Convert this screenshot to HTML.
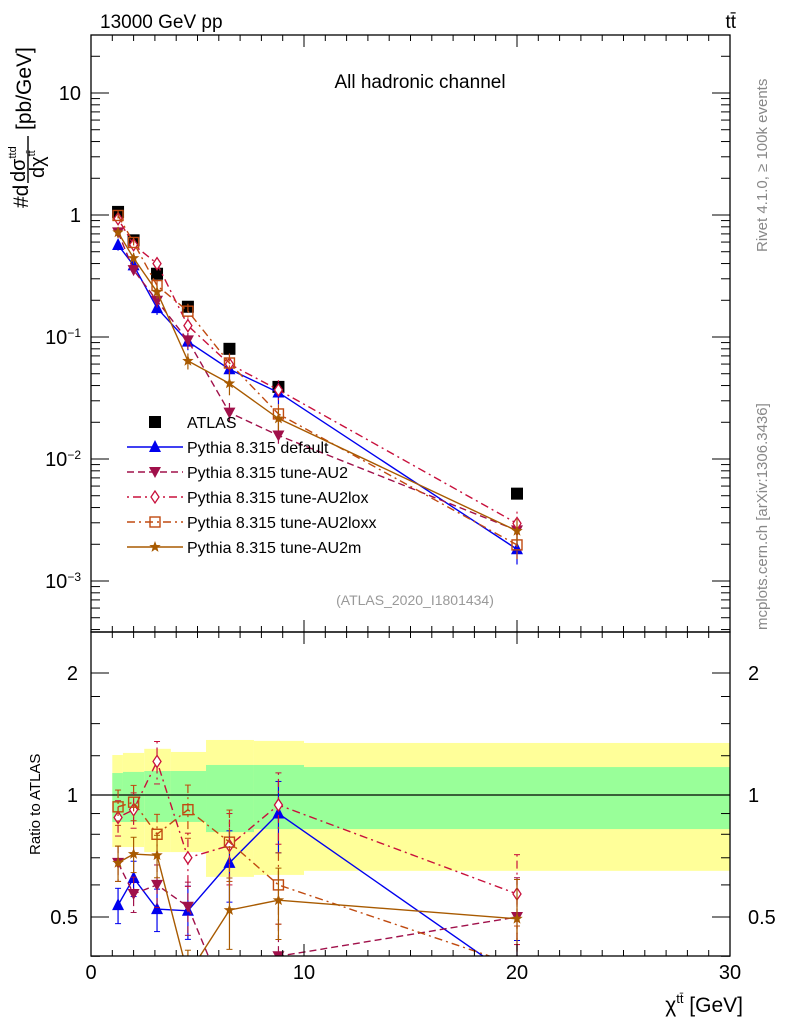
<!DOCTYPE html>
<html><head><meta charset="utf-8">
<style>
body{margin:0;background:#fff;font-family:"Liberation Sans",sans-serif;}
svg{display:block}
</style></head>
<body>
<svg id="chart" width="786" height="1024" xmlns="http://www.w3.org/2000/svg" font-family="Liberation Sans, sans-serif"></svg>
<script>
const xs = [1.27, 2.0, 3.1, 4.55, 6.5, 8.8, 20.0];
const atlas = [1.06, 0.62, 0.33, 0.177, 0.080, 0.039, 0.0052];
const atlasErr = [0.15, 0.15, 0.15, 0.15, 0.2, 0.2, 0.2];
const binEdges = [1, 1.5, 2.5, 3.75, 5.4, 7.65, 10, 30];
const yellowHi = [1.255, 1.27, 1.30, 1.277, 1.367, 1.36, 1.344];
const yellowLo = [0.744, 0.744, 0.723, 0.723, 0.628, 0.635, 0.65];
const greenHi = [1.133, 1.14, 1.146, 1.146, 1.186, 1.186, 1.172];
const greenLo = [0.858, 0.858, 0.858, 0.858, 0.81, 0.824, 0.824];
const rDefault = [0.535, 0.624, 0.523, 0.518, 0.68, 0.90, 0.35];
const rAU2 = [0.68, 0.57, 0.60, 0.53, 0.30, 0.40, 0.50];
const rAU2lox = [0.88, 0.92, 1.21, 0.70, 0.75, 0.945, 0.57];
const rAU2loxx = [0.935, 0.96, 0.80, 0.92, 0.765, 0.60, 0.38];
const rAU2m = [0.68, 0.715, 0.71, 0.36, 0.52, 0.55, 0.495];
const relErr = [0.1, 0.1, 0.12, 0.15, 0.2, 0.2, 0.25];
const xTicks = [0, 10, 20, 30];
const mainTicks = [10, 1, 0.1, 0.01, 0.001];
const mainTickLabels = ["10", "1", "10<tspan dy='-7' font-size='12'>−1</tspan>", "10<tspan dy='-7' font-size='12'>−2</tspan>", "10<tspan dy='-7' font-size='12'>−3</tspan>"];
const ratioTicks = [0.5, 1, 2];

const svg = document.getElementById('chart');
const NS = 'http://www.w3.org/2000/svg';
const L = 91, R = 730;
const MT = 35, MB = 632, RB = 956;
const X = v => L + (v - 0) / 30 * (R - L);
const YM = v => 215 - 122 * Math.log10(v);
const YR = v => 795 - 122 * Math.log2(v);
function el(tag, attrs, parent) {
  const e = document.createElementNS(NS, tag);
  for (const k in attrs) e.setAttribute(k, attrs[k]);
  (parent || svg).appendChild(e);
  return e;
}
function txt(x, y, s, size, extra, name, parent) {
  const t = el('text', Object.assign({x: x, y: y, 'font-size': size}, extra || {}), parent);
  t.innerHTML = s;
  
  
  return t;
}
const defs = el('defs', {});
const c1 = el('clipPath', {id: 'cm'}, defs); el('rect', {x: L, y: MT, width: R - L, height: MB - MT}, c1);
const c2 = el('clipPath', {id: 'cr'}, defs); el('rect', {x: L, y: MB, width: R - L, height: RB - MB}, c2);
const gMain = el('g', {'clip-path': 'url(#cm)'});


const gRatio = el('g', {'clip-path': 'url(#cr)'});



for (let i = 0; i < binEdges.length - 1; i++) {
  const x0 = X(binEdges[i]), x1 = X(binEdges[i + 1]);
  const yb = el('rect', {x: x0, y: YR(yellowHi[i]), width: x1 - x0, height: YR(yellowLo[i]) - YR(yellowHi[i]), fill: '#ffff99'}, gRatio);
  
  
}
for (let i = 0; i < binEdges.length - 1; i++) {
  const x0 = X(binEdges[i]), x1 = X(binEdges[i + 1]);
  const gb = el('rect', {x: x0, y: YR(greenHi[i]), width: x1 - x0, height: YR(greenLo[i]) - YR(greenHi[i]), fill: '#99ff99'}, gRatio);
  
  
}
el('line', {x1: L, x2: R, y1: YR(1), y2: YR(1), stroke: '#000', 'stroke-width': 1.2}, gRatio);

function marker(g, type, x, y, color) {
  let m;
  if (type === 'sq') m = el('rect', {x: x - 6, y: y - 6, width: 12, height: 12, fill: '#000'}, g);
  else if (type === 'tri') m = el('polygon', {points: `${x},${y - 7} ${x - 6},${y + 5} ${x + 6},${y + 5}`, fill: color}, g);
  else if (type === 'tridown') m = el('polygon', {points: `${x},${y + 6} ${x - 6},${y - 5} ${x + 6},${y - 5}`, fill: color}, g);
  else if (type === 'dia') m = el('polygon', {points: `${x},${y - 6} ${x - 4},${y} ${x},${y + 6} ${x + 4},${y}`, fill: '#fff', stroke: color, 'stroke-width': 1.3}, g);
  else if (type === 'osq') m = el('rect', {x: x - 5, y: y - 5, width: 10, height: 10, fill: 'none', stroke: color, 'stroke-width': 1.4}, g);
  else if (type === 'star') { const p = []; for (let k = 0; k < 10; k++) { const a = -Math.PI / 2 + k * Math.PI / 5; const r = k % 2 ? 2.5 : 6; p.push((x + r * Math.cos(a)).toFixed(1) + ',' + (y + r * Math.sin(a)).toFixed(1)); } m = el('polygon', {points: p.join(' '), fill: color}, g); }
  
  
}
const series = [
  {name: 'pythia-default', r: rDefault, color: '#0000ee', dash: '', m: 'tri', label: 'Pythia 8.315 default'},
  {name: 'pythia-au2', r: rAU2, color: '#a0104a', dash: '7,4', m: 'tridown', label: 'Pythia 8.315 tune-AU2'},
  {name: 'pythia-au2lox', r: rAU2lox, color: '#c8103c', dash: '2,4,8,4', m: 'dia', label: 'Pythia 8.315 tune-AU2lox'},
  {name: 'pythia-au2loxx', r: rAU2loxx, color: '#c04a10', dash: '8,4,2,4', m: 'osq', label: 'Pythia 8.315 tune-AU2loxx'},
  {name: 'pythia-au2m', r: rAU2m, color: '#a85a00', dash: '', m: 'star', label: 'Pythia 8.315 tune-AU2m'}
];
atlas.forEach((v, i) => {
  el('line', {x1: X(xs[i]), x2: X(xs[i]), y1: YM(v * (1 + atlasErr[i] * 0.5)), y2: YM(v * (1 - atlasErr[i] * 0.5)), stroke: '#000'}, gMain);
  marker(gMain, 'sq', X(xs[i]), YM(v), '#000');
});
series.forEach(s => {
  const gm = el('g', {}, gMain);
  
  
  const gr = el('g', {}, gRatio);
  
  
  const pm = xs.map((x, i) => X(x) + ',' + YM(s.r[i] * atlas[i])).join(' ');
  const pr = xs.map((x, i) => X(x) + ',' + YR(s.r[i])).join(' ');
  el('polyline', {points: pm, fill: 'none', stroke: s.color, 'stroke-width': 1.4, 'stroke-dasharray': s.dash}, gm);
  el('polyline', {points: pr, fill: 'none', stroke: s.color, 'stroke-width': 1.4, 'stroke-dasharray': s.dash}, gr);
  xs.forEach((x, i) => {
    const v = s.r[i], e = relErr[i];
    el('line', {x1: X(x), x2: X(x), y1: YM(v * atlas[i] * (1 + e)), y2: YM(v * atlas[i] * (1 - e)), stroke: s.color, 'stroke-width': 1.2, 'stroke-dasharray': s.dash}, gm);
    el('line', {x1: X(x), x2: X(x), y1: YR(v * (1 + e)), y2: YR(v * (1 - e)), stroke: s.color, 'stroke-width': 1.2, 'stroke-dasharray': s.dash}, gr);
    [v * (1 + e), v * (1 - e)].forEach(q => el('line', {x1: X(x) - 3, x2: X(x) + 3, y1: YR(q), y2: YR(q), stroke: s.color}, gr));
    marker(gm, s.m, X(x), YM(v * atlas[i]), s.color);
    marker(gr, s.m, X(x), YR(v), s.color);
  });
});

el('rect', {x: L, y: MT, width: R - L, height: MB - MT, fill: 'none', stroke: '#000', 'stroke-width': 1.3});
el('rect', {x: L, y: MB, width: R - L, height: RB - MB, fill: 'none', stroke: '#000', 'stroke-width': 1.3});
for (let v = 0; v <= 30; v++) {
  const len = v % 10 === 0 ? 12 : 6;
  [[MB, -1], [RB, -1], [MT, 1], [MB, 1]].forEach(([y, d]) => el('line', {x1: X(v), x2: X(v), y1: y, y2: y + d * len, stroke: '#000'}));
}
xTicks.forEach(v => txt(X(v), 979, String(v), 20, {'text-anchor': 'middle'}, 'x-tick-label'));
for (let d = -4; d <= 1; d++) for (let k = 1; k <= 9; k++) {
  const v = k * Math.pow(10, d), y = YM(v);
  if (y < MT || y > MB) continue;
  const len = k === 1 ? 18 : 9;
  el('line', {x1: L, x2: L + len, y1: y, y2: y, stroke: '#000'});
  el('line', {x1: R, x2: R - len, y1: y, y2: y, stroke: '#000'});
}
mainTicks.forEach((v, i) => txt(81, YM(v) + 7, mainTickLabels[i], 20, {'text-anchor': 'end'}, 'y-tick-label'));
[0.4, 0.5, 0.6, 0.7, 0.8, 0.9, 1, 2].forEach(v => {
  const len = [0.5, 1, 2].includes(v) ? 18 : 9;
  el('line', {x1: L, x2: L + len, y1: YR(v), y2: YR(v), stroke: '#000'});
  el('line', {x1: R, x2: R - len, y1: YR(v), y2: YR(v), stroke: '#000'});
});
[1.25, 1.5, 1.75].forEach(v => { el('line', {x1: L, x2: L + 9, y1: YR(v), y2: YR(v), stroke: '#000'}); el('line', {x1: R, x2: R - 9, y1: YR(v), y2: YR(v), stroke: '#000'}); });
ratioTicks.forEach(v => {
  txt(78, YR(v) + 7, String(v), 20, {'text-anchor': 'end'}, 'ratio-tick-label');
  txt(748, YR(v) + 7, String(v), 20, {}, 'ratio-tick-label-right');
});

const lx = 155, ly0 = 422;
txt(187, ly0 + 6, 'ATLAS', 16, {}, 'legend-entry');
marker(svg, 'sq', lx, ly0, '#000');
series.forEach((s, i) => {
  const y = ly0 + 25 * (i + 1);
  el('line', {x1: 127, x2: 183, y1: y, y2: y, stroke: s.color, 'stroke-width': 1.4, 'stroke-dasharray': s.dash});
  marker(svg, s.m, lx, y, s.color);
  txt(187, y + 6, s.label, 16, {}, 'legend-entry');
});

txt(100, 28, '13000 GeV pp', 19, {}, 'energy-label');
txt(736, 28, 'tt̄', 19, {'text-anchor': 'end'}, 'process-label');
txt(420, 88, 'All hadronic channel', 19, {'text-anchor': 'middle'}, 'plot-title');
txt(415, 605, '(ATLAS_2020_I1801434)', 14, {'text-anchor': 'middle', fill: '#999'}, 'analysis-id');
txt(0, 0, 'Rivet 4.1.0, ≥ 100k events', 15, {fill: '#888', transform: 'translate(767,252) rotate(-90)'}, 'rivet-version');
txt(0, 0, 'mcplots.cern.ch [arXiv:1306.3436]', 15, {fill: '#888', transform: 'translate(767,630) rotate(-90)'}, 'mcplots-credit');
const yt = el('g', {transform: 'translate(20,208) rotate(-90)'});


txt(0, 8, '#d', 21, {}, 'y-title-prefix', yt);
txt(26, 5, 'dσ<tspan font-size="11" dy="-9">ttd</tspan>', 20, {}, 'y-title-numerator', yt);
el('line', {x1: 25, x2: 72, y1: 8, y2: 8, stroke: '#000', 'stroke-width': 1.4}, yt);
txt(30, 24, 'dχ<tspan font-size="11" dy="-9">tt̄</tspan>', 20, {}, 'y-title-denominator', yt);
txt(78, 11, '[pb/GeV]', 21, {}, 'y-title-unit', yt);
txt(0, 0, 'Ratio to ATLAS', 15, {transform: 'translate(40,855) rotate(-90)'}, 'ratio-axis-title');
txt(743, 1012, 'χ<tspan dy="-9" font-size="13">tt̄</tspan><tspan dy="9"> [GeV]</tspan>', 21, {'text-anchor': 'end'}, 'x-axis-title');
</script>
</body></html>
